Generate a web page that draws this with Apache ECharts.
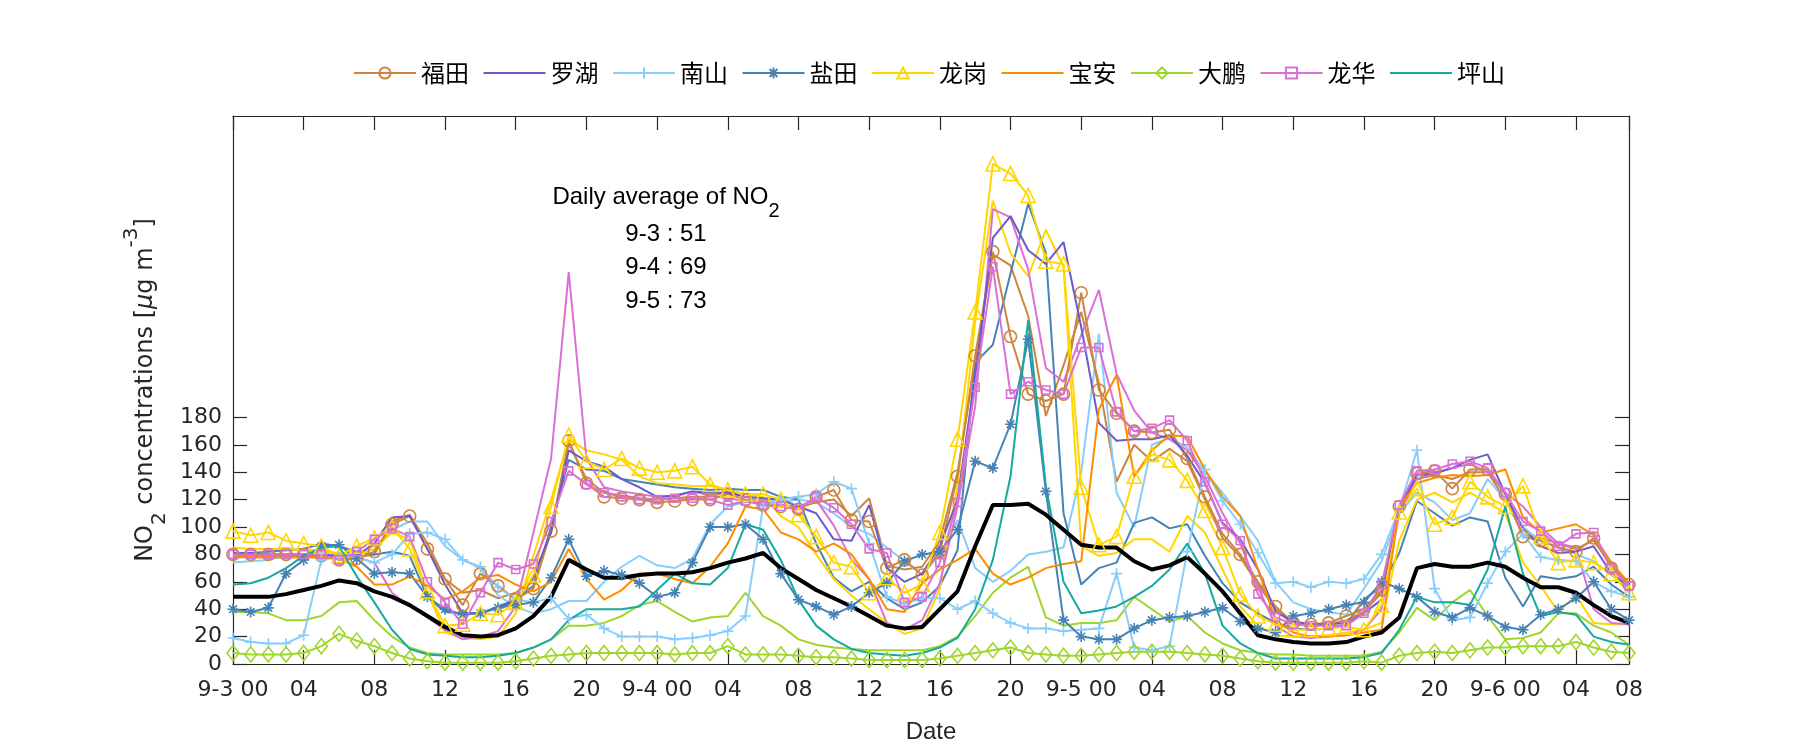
<!DOCTYPE html>
<html><head><meta charset="utf-8">
<script src="https://cdn.jsdelivr.net/npm/echarts@6/dist/echarts.min.js"></script>
<style>html,body{margin:0;padding:0;background:#fff}#c{width:1800px;height:750px}</style>
</head><body><div id="c"></div>
<script>
// ---- tick labels ----
const tickIdx = [0,4,8,12,16,20,24,28,32,36,40,44,48,52,56,60,64,68,72,76,79];
const tickLabels = ['9-3 00','04','08','12','16','20','9-4 00','04','08','12','16','20','9-5 00','04','08','12','16','20','9-6 00','04','08'];
const yTicks = [0,20,40,60,80,100,120,140,160,180];

// ---- series values (hourly, 80 points) ----
const futian = [80,80,80,80,80,79,76,77, 82,102,108,84,62,43,66,57, 47,55,97,163,132,122,121,120, 118,119,120,120,124,120,116,115, 113,122,127,105,104,70,76,65, 82,137,225,301,239,197,192,197, 271,200,183,170,169,171,150,122, 95,80,60,42,30,29,30,35, 40,54,115,139,141,128,142,142, 124,93,90,85,82,92,70,58];
const futian2 = [78,78,78,78,78,78,77,78, 80,104,109,88,62,52,54,48, 52,62,96,161,135,125,123,121, 120,121,122,122,126,122,118,116, 114,118,120,108,121,72,69,71, 90,140,220,299,291,254,181,218, 257,205,133,160,148,157,148,120, 92,78,58,40,29,28,29,32, 38,52,112,135,138,135,140,140, 120,95,92,88,84,90,72,58];
const luohu = [81,81,80,80,80,80,79,79, 88,107,108,84,58,37,37,41, 46,64,96,156,148,144,135,129, 122,123,126,125,125,122,121,120, 115,110,91,90,116,70,60,66, 86,120,210,311,327,302,292,308, 246,176,163,164,164,167,152,132, 103,91,69,38,31,29,29,30, 37,47,113,138,139,143,149,153, 124,99,86,81,82,86,66,57];
const nanshan = [19,16,15,15,21,76,78,78, 74,80,95,96,91,76,71,56, 47,45,48,33,36,26,20,20, 20,18,19,21,24,35,115,120, 122,124,133,128,88,49,44,48, 48,40,46,37,30,26,26,24, 25,26,66,12,10,13,82,142, 119,102,81,59,60,56,60,59, 62,80,113,156,55,32,34,59, 82,95,78,76,75,60,53,49];
const nanshan2 = [74,75,76,79,80,82,81,80, 84,98,104,104,86,76,70,50, 42,37,40,46,46,60,71,79, 72,70,77,102,115,118,120,118, 120,118,110,100,95,85,75,65, 80,105,70,60,68,80,82,85, 140,241,125,100,160,165,158,140, 125,108,90,60,45,40,38,36, 55,75,110,125,118,105,110,135, 120,100,90,85,80,75,65,55];
const yantian = [40,38,41,66,76,86,87,77, 66,67,66,49,40,36,37,41, 43,45,63,91,64,68,65,59, 49,52,74,100,100,102,91,66, 47,42,36,42,52,59,75,80, 82,98,148,143,175,237,126,32, 20,18,18,26,32,34,35,38, 41,31,26,23,35,37,40,43, 45,60,55,49,38,34,41,35, 27,25,36,40,48,60,40,32];
const yantian2 = [80,81,82,83,84,88,86,82, 80,82,79,49,38,37,37,42, 47,57,100,149,142,141,135,133, 131,129,128,127,128,127,127,122, 120,88,63,53,60,48,40,45, 57,83,220,233,285,336,300,110, 58,70,74,103,107,99,102,79, 59,45,37,30,26,25,26,29, 47,57,81,119,110,101,107,104, 63,42,64,62,64,71,58,49];
const longgang = [97,94,96,90,88,86,79,86, 92,100,84,53,28,29,37,36, 45,65,115,167,148,142,150,143, 140,141,144,131,127,124,124,120, 109,93,74,71,52,63,52,58, 96,164,257,365,358,342,294,292, 129,87,93,137,153,149,134,112, 85,51,35,29,25,25,26,27, 25,43,111,128,102,107,133,122, 115,130,93,74,76,74,66,52];
const longgang2 = [85,84,84,84,83,83,80,79, 84,96,91,52,23,19,18,20, 37,79,120,164,156,153,149,137, 132,131,130,130,127,124,122,108, 100,80,62,50,40,30,22,26, 55,130,250,338,300,283,317,290, 86,79,81,91,91,82,108,96, 69,42,28,21,20,20,21,23, 25,30,90,120,125,118,125,118, 110,74,57,38,50,30,29,29];
const baoan = [79,78,78,78,78,78,77,71, 58,58,64,57,47,53,63,65, 58,53,60,84,62,47,54,66, 66,62,59,71,88,115,113,96, 91,82,88,80,62,40,38,59, 69,76,84,66,58,63,70,73, 75,186,211,137,156,167,166,142, 122,108,69,32,23,20,20,21, 23,25,115,132,136,138,137,138, 142,107,96,99,102,94,74,59];
const dapeng = [8,7,7,7,8,13,22,17, 13,8,4,2,1,1,1,1, 2,4,6,7,8,8,8,8, 8,7,8,8,13,7,7,7, 6,5,5,4,3,3,3,3, 4,6,8,10,12,8,7,6, 6,7,8,9,9,9,8,7, 6,4,2,1,1,1,1,1, 2,1,6,8,9,8,10,12, 12,13,13,13,16,12,9,8];
const dapeng2 = [38,38,37,32,32,35,45,46, 32,20,12,8,7,7,7,7, 8,12,18,28,28,30,35,43, 46,38,31,34,35,52,35,28, 18,14,12,11,10,10,10,10, 13,20,35,52,63,71,34,28, 30,30,32,49,40,31,35,23, 15,10,8,7,7,6,6,6, 6,9,23,41,32,45,54,35, 18,19,23,37,37,28,23,14];
const longhua = [80,80,80,80,80,80,76,82, 91,99,93,60,45,29,52,74, 69,73,104,141,131,125,122,120, 120,121,121,120,116,119,116,115, 113,122,114,102,84,81,45,49, 74,118,202,290,197,206,200,197, 231,231,184,170,172,178,163,133, 102,90,51,34,29,28,28,28, 37,58,116,141,142,146,148,143, 125,104,97,86,95,96,70,57];
const longhua2 = [79,79,79,79,79,79,78,78, 74,52,42,34,25,18,20,24, 42,96,150,286,150,129,126,124, 122,122,126,123,121,119,118,116, 115,120,101,76,62,30,25,32, 59,115,188,332,326,288,216,206, 240,273,212,185,169,164,156,137, 110,88,56,28,20,19,20,21, 25,40,110,135,140,143,146,140, 125,115,100,88,85,40,30,29];
const pingshan = [58,59,63,70,79,85,86,64, 45,25,11,7,6,5,5,6, 8,12,18,32,40,40,40,42, 54,66,59,58,70,102,98,76, 47,28,18,11,8,7,6,8, 12,19,40,76,137,251,130,60, 37,39,42,49,57,69,88,66, 28,15,8,4,4,4,4,4, 5,8,25,49,45,45,43,69, 115,66,35,38,36,20,16,14];
const average = [49,49,49,51,54,57,61,59, 53,49,43,35,27,21,20,21, 26,35,49,76,69,63,63,65, 66,66,67,70,74,77,81,70, 62,54,48,42,35,28,26,27, 40,53,86,116,116,117,109,98, 87,85,85,75,69,72,78,66, 53,37,21,18,16,15,15,16, 20,23,34,70,73,71,71,74, 71,63,56,56,52,43,35,30];

// ---- daily averages annotation ----
const dailyDates = ['9-3','9-4','9-5'];
const dailyAvg = [51,69,73];

const COL = {fut:'#CD853F', luo:'#6A5ACD', nan:'#87CEFA', yan:'#4682B4', lg:'#FFD700', ba:'#FF8C00', dp:'#9FD62B', lh:'#DA70D6', ps:'#17A99F'};
const SYM = {
  circle:['circle',12], tri:['triangle',14], rect:['rect',8], dia:['diamond',[12,15]],
  plus:['path://M5,0L5,10M0,5L10,5',11],
  star:['path://M5,0L5,10M0,5L10,5M1.5,1.5L8.5,8.5M8.5,1.5L1.5,8.5',11]
};
function mk(name, vals, color, sym, width){
  const s = {
    type:'line', name, data: vals.map((v,i)=>[i,v]),
    lineStyle:{color, width: width||2}, color,
    itemStyle:{color:'rgba(0,0,0,0)', borderColor:color, borderWidth:1.6},
    emphasis:{disabled:true}, silent:true, animation:false
  };
  if (sym){ s.symbol = SYM[sym][0]; s.symbolSize = SYM[sym][1]; s.showSymbol = true; s.showAllSymbol = true; }
  else { s.symbol = 'none'; s.showSymbol = false; }
  return s;
}
const series = [
  mk('福田 ', futian2, COL.fut), mk('南山 ', nanshan2, COL.nan), mk('盐田 ', yantian2, COL.yan),
  mk('龙岗 ', longgang2, COL.lg), mk('大鹏 ', dapeng2, COL.dp), mk('龙华 ', longhua2, COL.lh),
  mk('福田', futian, COL.fut, 'circle'), mk('罗湖', luohu, COL.luo), mk('南山', nanshan, COL.nan, 'plus'),
  mk('盐田', yantian, COL.yan, 'star'), mk('龙岗', longgang, COL.lg, 'tri'), mk('宝安', baoan, COL.ba),
  mk('大鹏', dapeng, COL.dp, 'dia'), mk('龙华', longhua, COL.lh, 'rect'), mk('坪山', pingshan, COL.ps),
  Object.assign(mk('平均', average, '#000'), {lineStyle:{color:'#000', width:4}})
];

const AX = '#262626';
const TICKFONT = {fontFamily:'DejaVu Sans', fontSize:22, color:AX};
const chart = echarts.init(document.getElementById('c'), null, {renderer:'canvas'});
const gridBox = {left:233, top:116, width:1396, height:548};

const sub = {fontFamily:'Liberation Sans', fontSize:20, lineHeight:24, verticalAlign:'bottom', fill:'#000'};
const mainT = {fontFamily:'Liberation Sans', fontSize:24, lineHeight:48, verticalAlign:'middle', fill:'#000'};

const graphic = [
  {type:'text', x:666, y:197, silent:true, style:{text:'{a|Daily average of NO}{s|2}', textAlign:'center', textVerticalAlign:'middle', rich:{a:mainT, s:sub}}}
];
dailyDates.forEach((d,i)=>{
  graphic.push({type:'text', x:666, y:234 + i*33.5, silent:true,
    style:{text: d + ' : ' + dailyAvg[i], textAlign:'center', textVerticalAlign:'middle', fontFamily:'Liberation Sans', fontSize:24, fill:'#000'}});
});
const yMain = {fontFamily:'DejaVu Sans', fontSize:24, lineHeight:48, verticalAlign:'middle', fill:AX};
graphic.push({type:'text', x:146, y:390, rotation:Math.PI/2, silent:true,
  style:{text:'{a|NO}{s|2}{a| concentrations [}{m|μ}{a|g m}{p|-3}{a|]}', textAlign:'center', textVerticalAlign:'middle',
    rich:{a:yMain, s:{fontFamily:'DejaVu Sans', fontSize:20, lineHeight:24, verticalAlign:'bottom', fill:AX},
          m:Object.assign({}, yMain, {fontStyle:'italic'}),
          p:{fontFamily:'DejaVu Sans', fontSize:20, lineHeight:24, verticalAlign:'top', fill:AX}}}});
graphic.push({type:'text', x:931, y:732, silent:true, style:{text:'Date', textAlign:'center', textVerticalAlign:'middle', fontFamily:'Liberation Sans', fontSize:24, fill:AX}});

const xCommon = {type:'value', min:0, max:79, splitLine:{show:false},
  axisLine:{onZero:false, lineStyle:{color:AX, width:1.2}},
  axisTick:{inside:true, length:14, customValues:tickIdx, lineStyle:{color:AX, width:1.2}}};
const yCommon = {type:'value', min:0, max:400, splitLine:{show:false},
  axisLine:{show:true, onZero:false, lineStyle:{color:AX, width:1.2}},
  axisTick:{show:true, inside:true, length:14, customValues:yTicks, lineStyle:{color:AX, width:1.2}}};

const legendNames = ['福田','罗湖','南山','盐田','龙岗','宝安','大鹏','龙华','坪山'];
const noMarker = ['罗湖','宝安','坪山'];
chart.setOption({
  animation:false,
  backgroundColor:'#fff',
  grid:gridBox,
  legend:{data: legendNames.map(n => noMarker.includes(n) ? {name:n, itemStyle:{borderWidth:0, color:'rgba(0,0,0,0)', opacity:0}} : {name:n}),
    left:348, top:56, itemWidth:62, itemHeight:14, itemGap:13.5,
    textStyle:{fontFamily:'Noto Sans CJK SC', fontSize:24, color:'#000'}, selectedMode:false},
  xAxis:[
    Object.assign({}, xCommon, {position:'bottom', axisLabel:{customValues:tickIdx, margin:15, ...TICKFONT,
      formatter:(v)=>{const k=tickIdx.indexOf(Math.round(v)); return k>=0?tickLabels[k]:'';}}}),
    Object.assign({}, xCommon, {position:'top', axisLabel:{show:false}})
  ],
  yAxis:[
    Object.assign({}, yCommon, {position:'left', axisLabel:{customValues:yTicks, margin:11, ...TICKFONT}}),
    Object.assign({}, yCommon, {position:'right', axisLabel:{show:false}})
  ],
  graphic,
  series
});
</script></body></html>
